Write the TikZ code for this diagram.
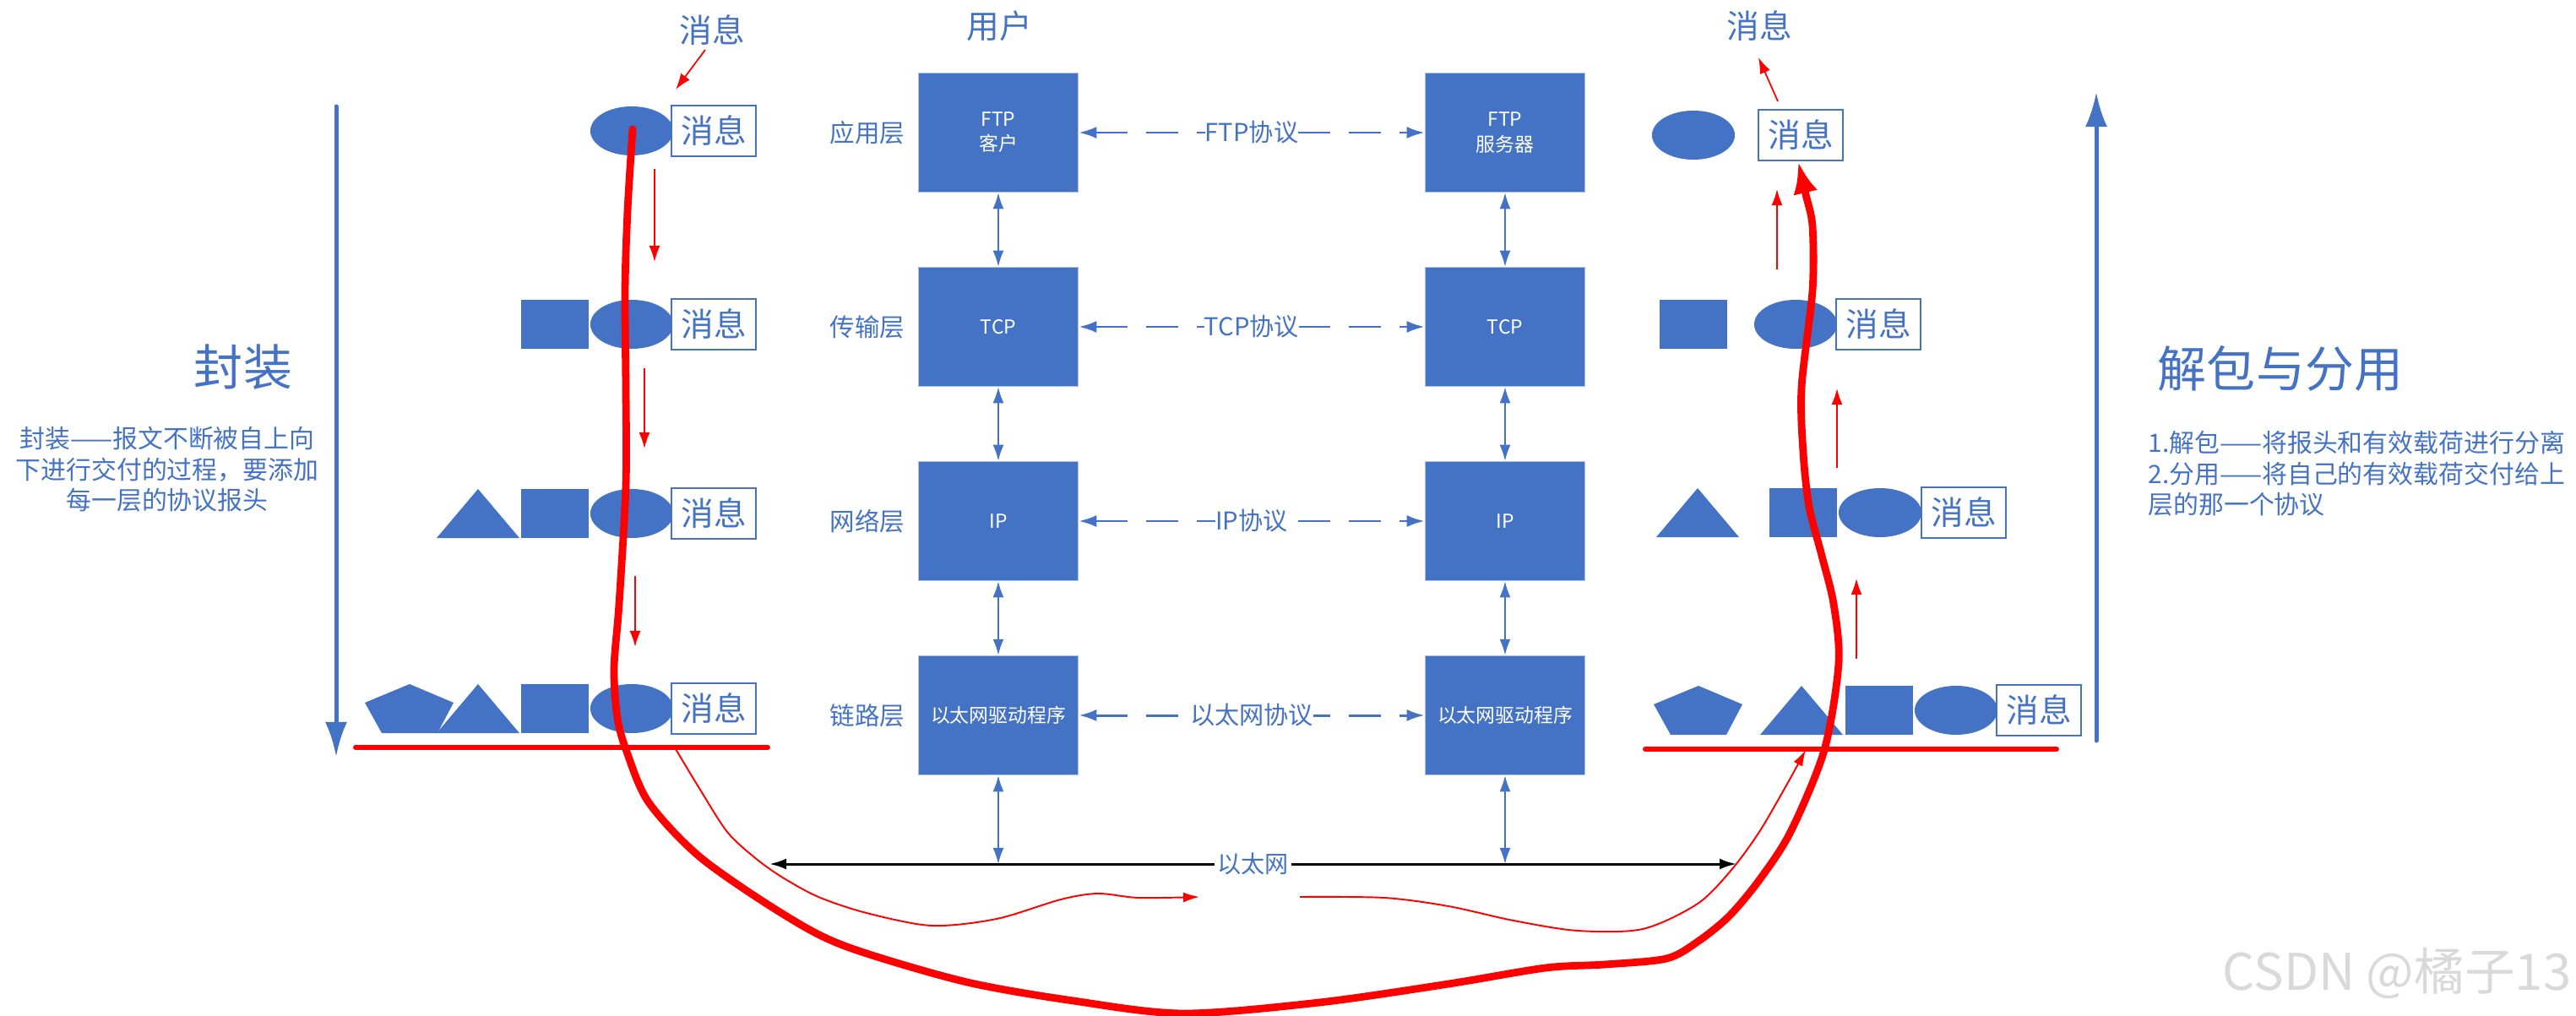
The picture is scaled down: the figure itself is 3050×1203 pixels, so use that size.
\documentclass[tikz,border=0pt]{standalone}
\usepackage{fontspec}
\setmainfont{Noto Sans CJK SC}
\usepackage{tikz}
\usetikzlibrary{arrows.meta}
\definecolor{pblue}{HTML}{4472C4}

\begin{document}
\begin{tikzpicture}[x=0.01cm, y=-0.01cm,
  lbl/.style={text=pblue, font=\fontsize{11}{13}\selectfont},
  title/.style={text=pblue, font=\fontsize{16.5}{19}\selectfont},
  desc/.style={text=pblue, font=\fontsize{8.5}{10.4}\selectfont},
  layername/.style={text=pblue, font=\fontsize{8.4}{10}\selectfont},
  layerbox/.style={fill=pblue, draw=pblue!45!white, line width=0.4pt,
    minimum width=1.89cm, minimum height=1.41cm, text=white, align=center,
    font=\fontsize{6.5}{8.3}\selectfont},
  msg/.style={draw=pblue, fill=white, line width=0.8pt, inner sep=0pt,
    minimum width=1.0cm, minimum height=0.6cm, text=pblue,
    font=\fontsize{11}{13}\selectfont},
  proto/.style={pblue, line width=0.85pt, dash pattern=on 3.8mm off 2.2mm,
    >={Latex[length=2.1mm,width=1.4mm]}, <->},
  plabel/.style={fill=white, inner sep=0pt, text=pblue,
    font=\fontsize{8.3}{10}\selectfont},
  vlink/.style={pblue, line width=0.55pt, >={Latex[length=1.9mm,width=1.3mm]}, <->},
  bigarrow/.style={pblue, line width=1.42pt, line cap=round,
    -{Latex[length=4.1mm,width=2.6mm]}},
  redline/.style={red, line width=1.7pt, line cap=round},
  smallred/.style={red, line width=0.5pt, -{Latex[length=1.9mm,width=1.3mm]}}
]
  \useasboundingbox (0,0) rectangle (3050,1203);

  % Header shape macros
  % #1=x, #2=y (centre)
  \newcommand{\hdrPenta}[2]{\fill[pblue] (#1,#2) ++(0,-29) -- ++(52,22) -- ++(-19,36) -- ++(-66,0) -- ++(-20,-36) -- cycle;}
  \newcommand{\hdrTri}[2]{\fill[pblue] (#1,#2) ++(-49,29) -- ++(98,0) -- ++(-49,-58) -- cycle;}
  \newcommand{\hdrSq}[2]{\fill[pblue] (#1,#2) ++(-40,-29) rectangle ++(80,58);}
  \newcommand{\hdrOval}[2]{\fill[pblue] (#1,#2) ellipse [x radius=0.49cm, y radius=0.29cm];}

  % Encapsulation side (left)
  \node[lbl] (msgL) at (843,36) {消息};
  \hdrOval{748}{155}
  \node[msg] (lm1) at (845,155) {消息};
  \hdrSq{657}{384} \hdrOval{748}{384}
  \node[msg] (lm2) at (845,384) {消息};
  \hdrTri{566}{608} \hdrSq{657}{608} \hdrOval{748}{608}
  \node[msg] (lm3) at (845,608) {消息};
  \hdrPenta{485}{839} \hdrTri{566}{839} \hdrSq{657}{839} \hdrOval{748}{839}
  \node[msg] (lm4) at (845,839) {消息};

  \coordinate (encTop) at (398,126);
  \coordinate (encBot) at (398,896);
  \draw[bigarrow] (encTop) -- (encBot);
  \node[title] (encT) at (288,435) {封装};
  \node[desc, align=center] (encD) at (198,556)
    {封装——报文不断被自上向\\下进行交付的过程，要添加\\每一层的协议报头};

  % Protocol stacks
  \node[lbl] (user) at (1183,31) {用户};
  \node[layerbox] (cApp) at (1182,157) {FTP\\客户};
  \node[layerbox] (cTcp) at (1182,387) {TCP};
  \node[layerbox] (cIp)  at (1182,617) {IP};
  \node[layerbox] (cEth) at (1182,847) {以太网驱动程序};
  \node[layerbox] (sApp) at (1782,157) {FTP\\服务器};
  \node[layerbox] (sTcp) at (1782,387) {TCP};
  \node[layerbox] (sIp)  at (1782,617) {IP};
  \node[layerbox] (sEth) at (1782,847) {以太网驱动程序};

  \node[layername] (nApp) at (1027,157) {应用层};
  \node[layername] (nTcp) at (1027,387) {传输层};
  \node[layername] (nIp)  at (1027,617) {网络层};
  \node[layername] (nEth) at (1027,847) {链路层};

  \draw[proto] (cApp) -- node[plabel] {FTP协议} (sApp);
  \draw[proto] (cTcp) -- node[plabel] {TCP协议} (sTcp);
  \draw[proto] (cIp)  -- node[plabel] {IP协议} (sIp);
  \draw[proto] (cEth) -- node[plabel] {以太网协议} (sEth);

  \draw[vlink] (cApp) -- (cTcp);
  \draw[vlink] (cTcp) -- (cIp);
  \draw[vlink] (cIp)  -- (cEth);
  \draw[vlink] (sApp) -- (sTcp);
  \draw[vlink] (sTcp) -- (sIp);
  \draw[vlink] (sIp)  -- (sEth);

  % Ethernet
  \coordinate (ethL) at (911,1023);
  \coordinate (ethR) at (2056,1023);
  \coordinate (cNet) at (1182,1023);
  \coordinate (sNet) at (1782,1023);
  \draw[vlink] (cEth) -- (cNet);
  \draw[vlink] (sEth) -- (sNet);
  \draw[line width=0.85pt, >={Latex[length=2mm,width=1.3mm]}, <->] (ethL) --
    node[fill=white, inner sep=1pt, text=pblue, font=\fontsize{8}{10}\selectfont] {以太网} (ethR);

  % Demultiplexing side (right)
  \node[lbl] (msgR) at (2083,31) {消息};
  \hdrOval{2005}{160}
  \node[msg] (rm1) at (2132,160) {消息};
  \hdrSq{2005}{384} \hdrOval{2126}{384}
  \node[msg] (rm2) at (2224,384) {消息};
  \hdrTri{2010}{607} \hdrSq{2135}{607} \hdrOval{2226}{607}
  \node[msg] (rm3) at (2325,607) {消息};
  \hdrPenta{2011}{841} \hdrTri{2133}{841} \hdrSq{2225}{841} \hdrOval{2316}{841}
  \node[msg] (rm4) at (2414,841) {消息};

  \coordinate (decBot) at (2482,877);
  \coordinate (decTop) at (2482,109);
  \draw[bigarrow] (decBot) -- (decTop);
  \node[title] (decT) at (2700,436) {解包与分用};
  \node[desc, align=left, anchor=west] (decD) at (2531,561)
    {1.解包——将报头和有效载荷进行分离\\2.分用——将自己的有效载荷交付给上\\层的那一个协议};

  % Red baselines and step arrows
  \draw[redline] (421,885) -- (909,885);
  \draw[redline] (1948,887) -- (2435,887);
  \draw[smallred] (835,59) -- (800,106);
  \draw[smallred] (775,200) -- (775,310);
  \draw[smallred] (763,436) -- (763,531);
  \draw[smallred] (752,682) -- (752,766);
  \draw[smallred] (2198,780) -- (2198,685);
  \draw[smallred] (2175,554) -- (2175,460);
  \draw[smallred] (2104,319) -- (2104,224);
  \draw[smallred] (2105,120) -- (2082,68);

  % Thin path along the wire
  \draw[red, line width=0.55pt, -{Latex[length=1.9mm,width=1.2mm]}]
    plot[smooth, tension=0.5] coordinates {(800,887) (829,935) (861,985) (893,1015)
      (925,1038) (969,1062) (1026,1081) (1103,1096) (1180,1088) (1256,1065)
      (1300,1058) (1348,1063) (1420,1062)};
  \draw[red, line width=0.55pt, -{Latex[length=1.9mm,width=1.2mm]}]
    plot[smooth, tension=0.5] coordinates {(1539,1062) (1639,1063) (1715,1073)
      (1792,1090) (1868,1102) (1945,1100) (2010,1070) (2050,1030) (2083,985)
      (2115,930) (2138,888)};

  % Thick path of the message
  \draw[red, line width=2.5pt, line cap=round, -{Latex[length=3.8mm,width=2.9mm]}]
    plot[smooth, tension=0.5] coordinates {(749,153) (743,250) (740,345) (741,460)
      (741,575) (733,715) (727,792) (731,850) (742,890) (768,950) (829,1015)
      (925,1081) (1000,1120) (1141,1162) (1271,1185) (1401,1200) (1562,1187)
      (1715,1165) (1830,1146) (1900,1142) (1973,1135) (2010,1115) (2047,1085)
      (2083,1042) (2120,985) (2160,888) (2177,785) (2171,715) (2157,658)
      (2142,600) (2135,536) (2133,459) (2146,344) (2146,268) (2138,230) (2129,191)};

  % Watermark
  \node[text=gray!30, font=\fontsize{17}{20}\selectfont] (wm) at (2838,1153) {CSDN @橘子13};
\end{tikzpicture}
\end{document}
